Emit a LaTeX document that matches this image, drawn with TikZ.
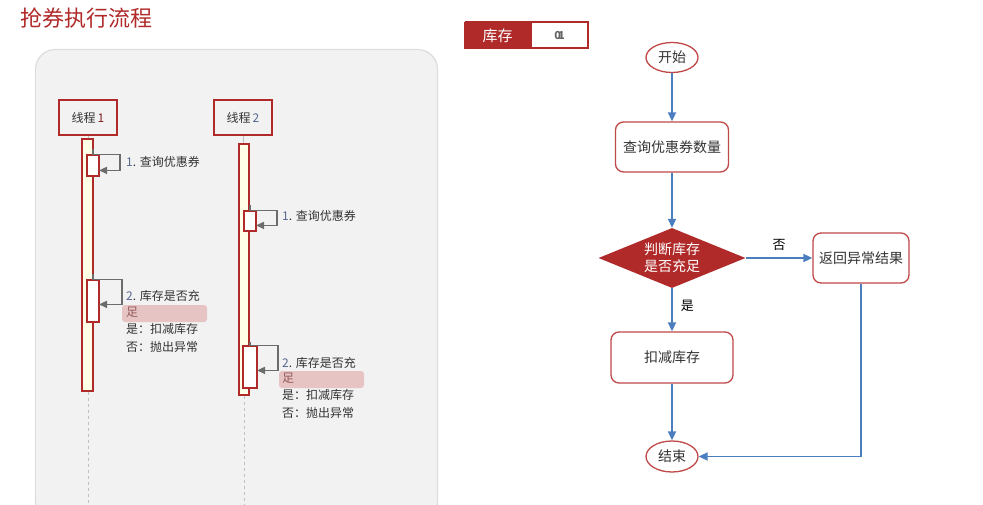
\documentclass[tikz,border=0pt]{standalone}
\usepackage{fontspec}
\setmainfont{Noto Sans CJK SC}
\usetikzlibrary{arrows.meta, positioning, shapes.geometric}
\definecolor{brickred}{HTML}{B02A2A}
\definecolor{edgered}{HTML}{C04848}
\definecolor{flowblue}{HTML}{4A7EBF}
\definecolor{panelgray}{HTML}{F2F2F2}
\definecolor{barfill}{HTML}{FFFFE8}
\definecolor{hlpink}{HTML}{E6C4C4}
\definecolor{txtgray}{HTML}{333333}
\definecolor{numblue}{HTML}{55678F}

\begin{document}
\begin{tikzpicture}[x=1pt, y=-1pt,
    title/.style={anchor=west, font=\fontsize{22}{24}\selectfont, text=brickred, inner sep=0pt},
    thread/.style={draw=brickred, fill=panelgray, line width=1.4pt, minimum width=58pt,
                minimum height=35pt, inner sep=0pt, font=\fontsize{12}{14}\selectfont, text=txtgray},
    bar/.style={draw=brickred, fill=barfill, line width=1.2pt, minimum width=11pt, inner sep=0pt},
    act/.style={draw=brickred, fill=white, line width=1.2pt, minimum width=12pt, inner sep=0pt},
    selfmsg/.style={draw=gray!85!black, line width=1.5pt, -{Triangle[length=8pt, width=7pt]}},
    note/.style={anchor=west, inner sep=0pt, font=\fontsize{12}{14}\selectfont, text=txtgray},
    hl/.style={fill=hlpink, rounded corners=3pt, minimum width=85pt, minimum height=17pt, inner sep=0pt},
    life/.style={draw=gray!50, line width=1pt},
    lifedash/.style={life, dashed},
    term/.style={ellipse, draw=edgered, fill=white, line width=1.3pt, minimum width=52pt,
                minimum height=30pt, inner sep=0pt, font=\fontsize{14}{16}\selectfont, text=txtgray},
    proc/.style={draw=edgered, fill=white, rounded corners=8pt, line width=1.3pt, inner sep=0pt,
                font=\fontsize{14}{16}\selectfont, text=txtgray, minimum height=50pt},
    decision/.style={diamond, fill=brickred, aspect=2.45, inner sep=0pt, minimum width=147pt,
                minimum height=60pt, align=center, text=white, font=\fontsize{14}{17}\selectfont},
    flow/.style={draw=flowblue, line width=1.7pt, -{Triangle[length=9pt, width=8pt]}},
    flowlbl/.style={font=\fontsize{13}{15}\selectfont, text=black, inner sep=0pt}
]
    \useasboundingbox (0,0) rectangle (983,505);
    \clip (0,0) rectangle (983,505);

    % title and stock tag
    \node[title] (heading) at (20,18) {抢券执行流程};
    \node[draw=brickred, line width=2pt, fill=white, minimum width=122pt, minimum height=26pt,
          inner sep=0pt] (tag) at (526.5,35.5) {};
    \node[fill=brickred, minimum width=68pt, minimum height=27pt, inner sep=0pt, text=white,
          font=\fontsize{15}{17}\selectfont, anchor=west] (tagkey) at ([xshift=-1pt]tag.west) {库存};
    \node[font=\fontsize{11}{13}\selectfont\bfseries, text=gray!80!black, inner sep=0pt]
          (tagval) at (559.5,35.5) {0\kern-3pt1};

    % sequence panel
    \fill[black!14, rounded corners=20pt] (35,49) rectangle (438,522);
    \fill[panelgray, rounded corners=20pt] (36,50) rectangle (437,521);

    \node[thread] (t1) at (88,117.5) {线程\,{\color{brickred!70!black}1}};
    \node[thread] (t2) at (243,117.5) {线程\,{\color{numblue}2}};

    \node[bar, minimum height=252pt] (bar1) at (87.5,265) {};
    \node[bar, minimum width=10pt, minimum height=251pt] (bar2) at (244,269.5) {};

    \coordinate (end1) at (88,505);
    \coordinate (end2) at (244,505);
    \draw[life] (t1.south) -- (t1.south |- bar1.north);
    \draw[life] (t2.south) -- (t2.south |- bar2.north);
    \draw[lifedash] (bar1.south -| end1) -- (end1);
    \draw[lifedash] (bar2.south) -- (end2);

    % activations
    \node[act, minimum height=21pt] (a1) at (93,165.5) {};
    \node[act, minimum height=42pt] (b1) at (93,301) {};
    \node[act, minimum height=20pt] (a2) at (250,221) {};
    \node[act, minimum width=14pt, minimum height=42pt] (b2) at (250,367) {};

    \draw[selfmsg] ([yshift=5pt]a1.north) -- (a1.north) -- ++(27,0) -- ++(0,16) -- ++(-21,0);
    \draw[selfmsg] ([yshift=5pt]b1.north) -- (b1.north) -- ++(29,0) -- ++(0,25) -- ++(-23,0);
    \draw[selfmsg] ([yshift=5pt]a2.north) -- (a2.north) -- ++(27,0) -- ++(0,15) -- ++(-21,0);
    \draw[selfmsg] ([yshift=3pt]b2.north) -- (b2.north) -- ++(28,0) -- ++(0,25) -- ++(-21,0);

    % notes
    \node[note] (n1a) at (126,162) {{\color{numblue}1}. 查询优惠券};
    \node[note] (n2a) at (282,216) {{\color{numblue}1}. 查询优惠券};

    \node[hl] (hl1) at (164.5,313.5) {};
    \node[note] (n1b) at (126,296) {{\color{numblue}2}. 库存是否充};
    \node[note, text=brickred!45!gray] (n1c) at (126,312.5) {足};
    \node[note] (n1d) at (126,329) {是：扣减库存};
    \node[note] (n1e) at (126,347) {否：抛出异常};

    \node[hl] (hl2) at (321.5,379.5) {};
    \node[note] (n2b) at (282,362.5) {{\color{numblue}2}. 库存是否充};
    \node[note, text=brickred!45!gray] (n2c) at (282,378.5) {足};
    \node[note] (n2d) at (282,395) {是：扣减库存};
    \node[note] (n2e) at (282,413) {否：抛出异常};

    % flow chart
    \node[term] (start) at (672,57.5) {开始};
    \node[proc, minimum width=113pt] (query) at (672,147) {查询优惠券数量};
    \node[decision] (check) at (672,258) {判断库存\\是否充足};
    \node[proc, minimum width=96pt] (fail) at (861,258) {返回异常结果};
    \node[proc, minimum width=122pt, minimum height=51pt] (deduct) at (672,357.5) {扣减库存};
    \node[term, minimum height=31pt] (stop) at (672,456.5) {结束};

    \draw[flow] (start) -- (query);
    \draw[flow] (query) -- (check);
    \draw[flow] (check) -- node[flowlbl, above=7pt]{否} (fail);
    \draw[flow] (check) -- node[flowlbl, right=8pt, pos=0.4]{是} (deduct);
    \draw[flow] (deduct) -- (stop);
    \draw[flow] (fail.south) |- (stop.east);
\end{tikzpicture}
\end{document}
